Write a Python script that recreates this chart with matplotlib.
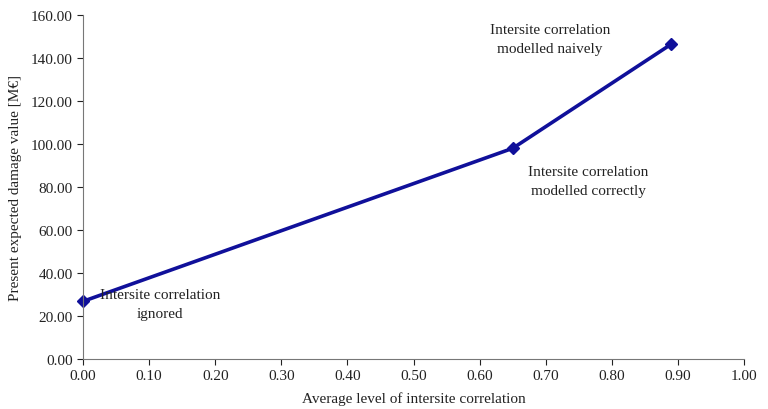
import matplotlib
matplotlib.use("Agg")
import matplotlib.pyplot as plt

# data
correlation = [0.0, 0.65, 0.89]
damage = [26.8, 98.0, 146.5]
labels = ["Intersite correlation\nignored",
          "Intersite correlation\nmodelled correctly",
          "Intersite correlation\nmodelled naively"]
label_pos = [(0.117, 25.5), (0.764, 83.0), (0.706, 149.0)]

plt.rcParams['font.family'] = ['Liberation Serif', 'DejaVu Serif']

fig = plt.figure(figsize=(7.68, 4.10), dpi=100)
ax = fig.add_axes([0.108, 0.122, 0.861, 0.839])

ax.plot(correlation, damage, color="#10109a", linewidth=2.6,
        marker="D", markersize=6, clip_on=False)

for text, (x, y) in zip(labels, label_pos):
    ax.text(x, y, text, ha="center", va="center", fontsize=11,
            color="#222222", linespacing=1.6)

ax.set_xlim(0, 1.0)
ax.set_ylim(0, 160)
ax.set_xticks([i / 10 for i in range(11)])
ax.set_yticks(range(0, 161, 20))
ax.xaxis.set_major_formatter(plt.FormatStrFormatter("%.2f"))
ax.yaxis.set_major_formatter(plt.FormatStrFormatter("%.2f"))
ax.tick_params(labelsize=11, colors="#222222", direction="out", length=4)
for side in ["top", "right"]:
    ax.spines[side].set_visible(False)
for side in ["left", "bottom"]:
    ax.spines[side].set_color("#777777")

ax.set_xlabel("Average level of intersite correlation", fontsize=11,
              color="#222222", labelpad=6)
ax.set_ylabel("Present expected damage value [M€]", fontsize=11,
              color="#222222", labelpad=6)

fig.savefig("out.png", dpi=100)
